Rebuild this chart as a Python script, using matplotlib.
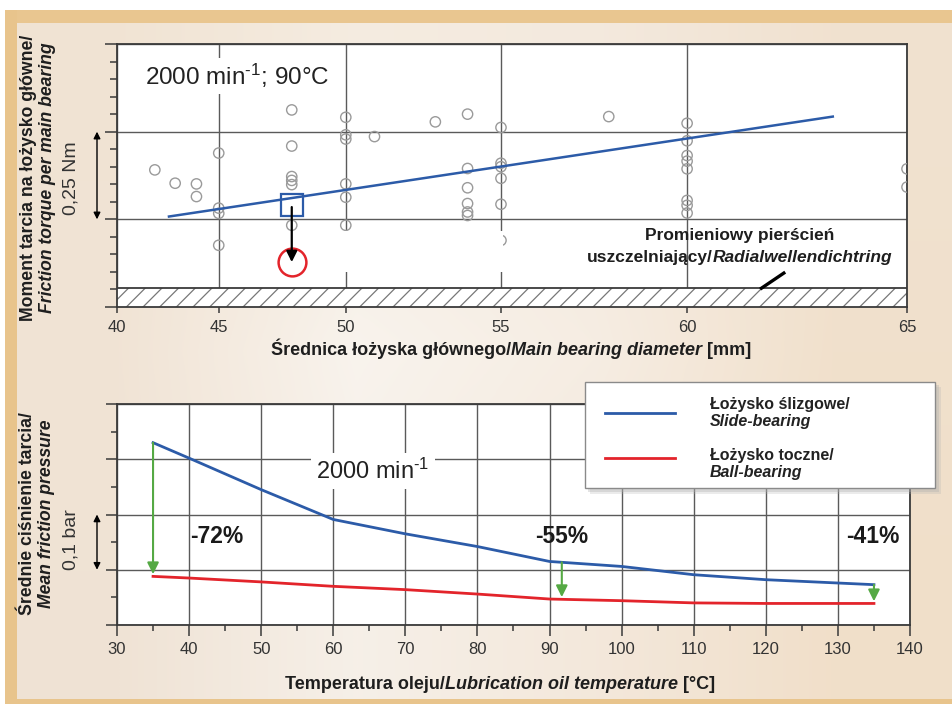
import numpy as np
import matplotlib
matplotlib.use("Agg")
import matplotlib.pyplot as plt
from matplotlib.transforms import IdentityTransform, blended_transform_factory
from matplotlib.patches import Rectangle
from matplotlib.lines import Line2D

# ---------------- data ----------------
# top chart: friction torque per main bearing vs main bearing diameter
diam = [42, 43, 44, 44, 45, 45, 45, 45, 48, 48, 48, 48, 48, 48,
        50, 50, 50, 50, 50, 50, 51, 53, 54, 54, 54, 54, 54, 54,
        55, 55, 55, 55, 55, 55, 58, 60, 60, 60, 60, 60, 60, 60, 60, 65, 65]
torque = [0.391, 0.353, 0.351, 0.315, 0.439, 0.282, 0.267, 0.176,
          0.562, 0.459, 0.372, 0.361, 0.349, 0.233,
          0.541, 0.491, 0.479, 0.351, 0.313, 0.233, 0.486, 0.528,
          0.550, 0.395, 0.340, 0.295, 0.271, 0.261,
          0.512, 0.410, 0.400, 0.367, 0.293, 0.190, 0.543,
          0.524, 0.474, 0.432, 0.416, 0.394, 0.304, 0.290, 0.268, 0.394, 0.342]
trend_d = [42.7, 63.4]
trend_t = [0.258, 0.543]
hl_d = 48
hl_slide = 0.29
hl_ball = 0.128
seal_level = 0.055
diam_ticks = [40, 45, 50, 55, 60, 65]

# bottom chart: mean friction pressure vs oil temperature
temp = [35, 40, 50, 60, 70, 80, 90, 100, 110, 120, 135]
slide = [0.330, 0.302, 0.245, 0.191, 0.165, 0.142, 0.115, 0.106, 0.091, 0.082, 0.073]
ball = [0.088, 0.085, 0.078, 0.070, 0.064, 0.056, 0.047, 0.044, 0.040, 0.039, 0.039]
drop_t = [35, 91.7, 135]
drop_labels = ["-72%", "-55%", "-41%"]
drop_label_x = [43.8, 91.7, 134.9]
temp_ticks = [30, 40, 50, 60, 70, 80, 90, 100, 110, 120, 130, 140]

# ---------------- style ----------------
FONT = "Liberation Sans"
plt.rcParams["font.family"] = [FONT, "DejaVu Sans"]
plt.rcParams["mathtext.fontset"] = "custom"
plt.rcParams["mathtext.rm"] = FONT
plt.rcParams["mathtext.it"] = FONT + ":italic"
plt.rcParams["mathtext.bf"] = FONT + ":bold"
plt.rcParams["hatch.linewidth"] = 0.9

W, H = 953, 704
fig = plt.figure(figsize=(W / 100, H / 100), dpi=100)
renderer = fig.canvas.get_renderer()
ID = IdentityTransform()

BLUE = "#2c5ba8"
RED = "#e3242b"
GREEN = "#55a944"
GRID = "#5a5a5a"
SPINE = "#3a3a3a"
TXT = "#1e1e1e"

# ---------------- background ----------------
bg = fig.add_axes([0, 0, 1, 1], zorder=-10)
bg.set_axis_off()
grad = np.array([
    [[0.945, 0.893, 0.830], [0.960, 0.925, 0.880], [0.955, 0.915, 0.870], [0.945, 0.885, 0.815]],
    [[0.945, 0.893, 0.835], [0.975, 0.955, 0.930], [0.965, 0.930, 0.890], [0.945, 0.880, 0.800]],
    [[0.940, 0.890, 0.835], [0.965, 0.940, 0.910], [0.955, 0.910, 0.860], [0.945, 0.875, 0.790]],
])
bg.imshow(grad, aspect="auto", interpolation="bilinear", extent=[0, 1, 0, 1])
bg.set_xlim(0, 1)
bg.set_ylim(0, 1)


def fig_rect(x0, y0, x1, y1, color, z=-5, **kw):
    fig.patches.append(Rectangle((x0, H - y1), x1 - x0, y1 - y0, transform=ID,
                                 facecolor=color, edgecolor="none", zorder=z, **kw))


fig_rect(0, 0, W, 10, "white")
fig_rect(0, 0, 5, H, "white")
fig_rect(5, 10, W, 23, "#e9c690")
fig_rect(5, 10, 17, H, "#e8c48c")
fig_rect(5, 699, W, H, "#e8c48c")


# ---------------- rich text helper ----------------
def text_w(s, size, style):
    t1 = fig.text(0, 0, "|" + s + "|", transform=ID, fontsize=size, fontweight="bold", fontstyle=style)
    t2 = fig.text(0, 0, "||", transform=ID, fontsize=size, fontweight="bold", fontstyle=style)
    w = t1.get_window_extent(renderer).width - t2.get_window_extent(renderer).width
    t1.remove()
    t2.remove()
    return w


def rich(parts, x, y, size=13, rotation=0, color=TXT):
    """x, y in image pixels (top-left origin). Horizontal: x centre, y baseline.
    Vertical: x baseline, y centre."""
    ws = [text_w(s, size, st) for s, st in parts]
    tot = sum(ws)
    if rotation == 0:
        cx = x - tot / 2
        for (s, st), w in zip(parts, ws):
            fig.text(cx, H - y, s, transform=ID, ha="left", va="baseline", fontsize=size,
                     fontweight="bold", fontstyle=st, color=color)
            cx += w
    else:
        cy = (H - y) - tot / 2
        for (s, st), w in zip(parts, ws):
            fig.text(x, cy, s, transform=ID, ha="left", va="baseline", fontsize=size,
                     fontweight="bold", fontstyle=st, color=color, rotation=90,
                     rotation_mode="anchor")
            cy += w


def style_axes(ax):
    for sp in ax.spines.values():
        sp.set_color(SPINE)
        sp.set_linewidth(1.3)
    ax.set_facecolor("white")
    ax.set_axisbelow(True)
    ax.tick_params(axis="both", which="both", direction="out", color=SPINE, width=1.1,
                   labelsize=12, labelcolor="#333333")
    ax.tick_params(axis="y", which="both", labelleft=False)
    ax.grid(True, which="major", color=GRID, linewidth=1.0)


# ---------------- top chart ----------------
ax1 = fig.add_axes([117 / W, 1 - 307 / H, 790 / W, 263 / H])
ax1.set_xscale("function", functions=(lambda v: np.asarray(v, dtype=float) ** 3,
                                      lambda v: np.cbrt(np.asarray(v, dtype=float))))
ax1.set_xlim(40, 65)
ax1.set_ylim(0, 0.75)
ax1.set_xticks(diam_ticks)
ax1.set_xticklabels([str(t) for t in diam_ticks])
ax1.xaxis.set_minor_locator(matplotlib.ticker.NullLocator())
ax1.set_yticks([0, 0.25, 0.5, 0.75])
ax1.set_yticks(np.arange(0.05, 0.75, 0.05), minor=True)
style_axes(ax1)
ax1.tick_params(axis="y", which="major", length=9)
ax1.tick_params(axis="y", which="minor", length=5)
ax1.tick_params(axis="x", which="major", length=4, pad=5)

# seal band (hatched)
ax1.add_patch(Rectangle((40, 0), 25, seal_level, facecolor="white", edgecolor="#777777",
                        hatch="//", linewidth=0, zorder=2))
ax1.axhline(seal_level, color=SPINE, lw=1.3, zorder=3)

# white cover box
ax1.add_patch(Rectangle((0.252, 0.133), 0.237, 0.156, transform=ax1.transAxes,
                        facecolor="white", edgecolor="none", zorder=4))

ax1.scatter(diam, torque, s=55, facecolors="none", edgecolors="#9a9a9a", linewidths=1.0, zorder=3)
ax1.plot(trend_d, trend_t, color=BLUE, lw=1.8, zorder=5)
ax1.plot([hl_d], [hl_slide], marker="s", markersize=16.5, markerfacecolor="none",
         markeredgecolor=BLUE, markeredgewidth=1.6, zorder=6)
ax1.plot([hl_d], [hl_ball], marker="o", markersize=20, markerfacecolor="none",
         markeredgecolor=RED, markeredgewidth=1.8, zorder=6)
ax1.annotate("", xy=(hl_d, hl_ball), xytext=(hl_d, hl_slide - 0.005),
             arrowprops=dict(arrowstyle="-|>", color="black", lw=1.6, mutation_scale=16,
                             shrinkA=0, shrinkB=0), zorder=7)

ax1.text(0.035, 0.844, r"2000 min$^{\text{-1}}$; 90°C", transform=ax1.transAxes, fontsize=17.5,
         color="#222222", ha="left", va="baseline", zorder=8,
         bbox=dict(facecolor="white", edgecolor="none", pad=3))

# seal label and leader
ax1.plot([62.33, 61.75], [0.0994, 0.051], color="black", lw=2.4, zorder=8, solid_capstyle="butt")
rich([("Promieniowy pierścień", "normal")], 740, 240, size=12.5)
rich([("uszczelniający/", "normal"), ("Radialwellendichtring", "italic")], 740, 262, size=12.5)

# y annotation top
tr1 = blended_transform_factory(ID, ax1.transData)
ax1.annotate("", xy=(97, 0.5), xytext=(97, 0.25), xycoords=tr1, textcoords=tr1,
             arrowprops=dict(arrowstyle="<|-|>", color="black", lw=1.0, mutation_scale=10,
                             shrinkA=0, shrinkB=0), annotation_clip=False)
fig.text(76, H - 178, "0,25 Nm", transform=ID, rotation=90, rotation_mode="anchor",
         ha="center", va="baseline", fontsize=14, color="#333333")

rich([("Moment tarcia na łożysko główne/", "normal")], 33, 178, size=12.7, rotation=90)
rich([("Friction torque per main bearing", "italic")], 52, 178, size=12.7, rotation=90)
rich([("Średnica łożyska głównego/", "normal"), ("Main bearing diameter", "italic"),
      (" [mm]", "normal")], 511, 355, size=13)

# ---------------- bottom chart ----------------
ax2 = fig.add_axes([117 / W, 1 - 625 / H, 793 / W, 221 / H])
ax2.set_xlim(30, 140)
ax2.set_ylim(0, 0.4)
ax2.set_xticks(temp_ticks)
ax2.set_xticklabels([str(t) for t in temp_ticks])
ax2.set_xticks(np.arange(35, 140, 10), minor=True)
ax2.set_yticks([0, 0.1, 0.2, 0.3, 0.4])
ax2.set_yticks([0.05, 0.15, 0.25, 0.35], minor=True)
style_axes(ax2)
ax2.tick_params(axis="both", which="major", length=8, pad=4)
ax2.tick_params(axis="both", which="minor", length=4)

ax2.plot(temp, slide, color=BLUE, lw=2.0, zorder=4)
ax2.plot(temp, ball, color=RED, lw=2.0, zorder=4)

for t in drop_t:
    top = np.interp(t, temp, slide)
    bot = np.interp(t, temp, ball)
    ax2.annotate("", xy=(t, bot + 0.004), xytext=(t, top),
                 arrowprops=dict(arrowstyle="-|>", color=GREEN, lw=1.5, mutation_scale=17,
                                 shrinkA=0, shrinkB=0), zorder=5)

for lx, lab in zip(drop_label_x, drop_labels):
    ax2.text(lx, 0.148, lab, ha="center", va="baseline", fontsize=16.5, fontweight="bold",
             color="#1a1a1a", zorder=6)

ax2.text(65.5, 0.265, r"2000 min$^{\text{-1}}$", ha="center", va="baseline", fontsize=17,
         color="#222222", zorder=6, bbox=dict(facecolor="white", edgecolor="none", pad=4))

tr2 = blended_transform_factory(ID, ax2.transData)
ax2.annotate("", xy=(97, 0.2), xytext=(97, 0.1), xycoords=tr2, textcoords=tr2,
             arrowprops=dict(arrowstyle="<|-|>", color="black", lw=1.0, mutation_scale=10,
                             shrinkA=0, shrinkB=0), annotation_clip=False)
fig.text(76, H - 540, "0,1 bar", transform=ID, rotation=90, rotation_mode="anchor",
         ha="center", va="baseline", fontsize=14, color="#333333")

rich([("Średnie ciśnienie tarcia/", "normal")], 32, 514, size=12.7, rotation=90)
rich([("Mean friction pressure", "italic")], 51, 514, size=12.7, rotation=90)
rich([("Temperatura oleju/", "normal"), ("Lubrication oil temperature", "italic"),
      (" [°C]", "normal")], 500, 689, size=13)

# ---------------- legend (figure level) ----------------
fig_rect(588, 385, 939, 492, "#b0b0b0", z=20, alpha=0.35)
fig_rect(590, 387, 941, 494, "#b0b0b0", z=20, alpha=0.25)
fig.patches.append(Rectangle((585, H - 488), 350, 106, transform=ID, facecolor="white",
                             edgecolor="#8a8a8a", linewidth=1.0, zorder=21))
fig.lines.append(Line2D([605, 675], [H - 413, H - 413], transform=ID, color=BLUE, lw=2.0, zorder=22))
fig.lines.append(Line2D([605, 675], [H - 458, H - 458], transform=ID, color=RED, lw=2.0, zorder=22))
for s, st, yy in [("Łożysko ślizgowe/", "normal", 409), ("Slide-bearing", "italic", 426),
                  ("Łożysko toczne/", "normal", 460), ("Ball-bearing", "italic", 477)]:
    fig.text(710, H - yy, s, transform=ID, ha="left", va="baseline", fontsize=11.5,
             fontweight="bold", fontstyle=st, color="#222222", zorder=23)

fig.savefig("out.png", dpi=100)
